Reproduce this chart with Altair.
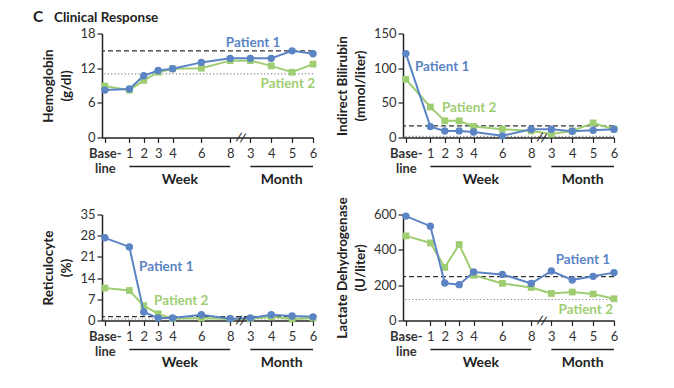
import altair as alt
import pandas as pd

BLUE = "#5b84c4"
GREEN = "#9fcd72"
INK = "#222222"
FONT = "Lato"

# x axis: time points (baseline, weeks 1-8, months 3-6) and their axis positions
TIME_LABELS = ["Base-line", "1", "2", "3", "4", "6", "8", "3", "4", "5", "6"]
X_POS = [0.0, 1.7, 2.7, 3.7, 4.7, 6.7, 8.7, 10.1, 11.55, 13.0, 14.45]
X_DOMAIN = [-0.2, 14.45]
BREAK_POS = 9.45

GROUP_LABELS = ["Week", "Month"]
GROUP_START = [1.7, 10.1]
GROUP_END = [8.7, 14.45]

# Hemoglobin (g/dl)
HB_P1 = [8.2, 8.4, 10.7, 11.6, 11.9, 13.0, 13.7, 13.7, 13.7, 15.0, 14.5]
HB_P2 = [8.9, 8.2, 9.9, 11.3, 11.9, 12.0, 13.3, 13.3, 12.4, 11.3, 12.7]
HB_REF = [15.0, 11.0]

# Indirect bilirubin (mmol/liter)
BIL_P1 = [121, 15.7, 9.5, 9.5, 8.0, 2.4, 12.0, 12.0, 9.0, 10.5, 12.0]
BIL_P2 = [84, 44, 24, 24, 16, 12, 9.5, 5.0, 9.5, 21, 12]
BIL_REF = [16.7, 1.5]

# Reticulocyte (%)
RET_P1 = [27.3, 24.3, 2.8, 0.8, 0.8, 1.9, 0.6, 0.8, 1.9, 1.5, 1.2]
RET_P2 = [10.7, 9.9, 4.9, 2.2, 0.6, 0.8, 0.5, 0.5, 1.2, 0.5, 0.8]
RET_REF = [1.3, 0.5]

# Lactate dehydrogenase (U/liter)
LDH_P1 = [591, 534, 212, 203, 275, 261, 210, 280, 229, 250, 271]
LDH_P2 = [479, 439, 301, 430, 256, 210, 187, 153, 161, 150, 123]
LDH_REF = [248, 119]

PATIENTS = ["Patient 1", "Patient 2"]


def label_expr():
    parts = []
    for lab, pos in zip(TIME_LABELS, X_POS):
        if lab == "Base-line":
            txt = "['Base-', 'line']"
        else:
            txt = "'" + lab + "'"
        parts.append(f"abs(datum.value - ({pos})) < 0.01 ? {txt}")
    return " : ".join(parts) + " : ''"


def panel(ytitle, p1, p2, ymax, yticks, refs, lab1, lab2, h, with_title=False):
    xs = alt.Scale(domain=X_DOMAIN, nice=False, zero=False)
    ys = alt.Scale(domain=[0, ymax], nice=False, zero=True)
    x_axis = alt.Axis(
        values=X_POS, labelExpr=label_expr(), title=None, grid=False,
        labelOverlap=False, labelFlush=False, labelBound=False,
        labelFontWeight={"condition": {"test": "datum.value < 0.5", "value": "bold"}, "value": "normal"},
        labelLineHeight=15, labelPadding=5, tickSize=5,
        labelFont=FONT, labelFontSize=13, labelColor="#333333",
    )
    y_axis = alt.Axis(
        values=yticks, title=ytitle, grid=False, tickSize=5, labelPadding=2,
        labelFont=FONT, labelFontSize=13, labelColor="#333333",
        titleFont=FONT, titleColor=INK,
        titleFontWeight="bold", titleFontSize=13.5, titlePadding=6, titleLineHeight=18,
        labelOverlap=False, labelFlush=False,
    )

    def X(f):
        return alt.X(f, type="quantitative", scale=xs, axis=x_axis)

    def Y(f):
        return alt.Y(f, type="quantitative", scale=ys, axis=y_axis)

    df = pd.DataFrame({"x": X_POS, "p1": p1, "p2": p2})
    base = alt.Chart(df)

    dash = alt.Chart(pd.DataFrame({"r": [refs[0]]})).mark_rule(
        color="#333333", strokeDash=[5, 3], strokeWidth=1.2
    ).encode(y=Y("r"))
    dot = alt.Chart(pd.DataFrame({"r": [refs[1]]})).mark_rule(
        color="#888888", strokeDash=[1.2, 2.2], strokeWidth=1.2
    ).encode(y=Y("r"))

    l2 = base.mark_line(color=GREEN, strokeWidth=2).encode(x=X("x"), y=Y("p2"))
    s2 = base.mark_square(color=GREEN, size=46, opacity=1).encode(x=X("x"), y=Y("p2"))
    l1 = base.mark_line(color=BLUE, strokeWidth=2).encode(x=X("x"), y=Y("p1"))
    s1 = base.mark_circle(color=BLUE, size=55, opacity=1).encode(x=X("x"), y=Y("p1"))

    labs = pd.DataFrame({
        "x": [lab1[0], lab2[0]], "y": [lab1[1], lab2[1]],
        "t": PATIENTS, "c": [BLUE, GREEN], "a": [lab1[2], lab2[2]],
    })
    texts = []
    for i in range(2):
        texts.append(alt.Chart(labs.iloc[[i]]).mark_text(
            align=labs["a"][i], baseline="middle", font=FONT, fontSize=13.5,
            fontWeight="bold", color=labs["c"][i],
        ).encode(x=X("x"), y=Y("y"), text="t:N"))

    brk = alt.Chart(pd.DataFrame({"x": [BREAK_POS], "y": [0], "t": ["//"]})).mark_text(
        font="DejaVu Sans", fontSize=12, color=INK, angle=15, baseline="middle", align="center"
    ).encode(x=X("x"), y=Y("y"), text="t:N")

    gdf = pd.DataFrame({"s": GROUP_START, "e": GROUP_END, "t": GROUP_LABELS})
    gdf["m"] = (gdf["s"] + gdf["e"]) / 2
    grules = alt.Chart(gdf).mark_rule(color=INK, strokeWidth=1.3).encode(
        x=X("s"), x2="e", y=alt.value(h + 29)
    )
    gtext = alt.Chart(gdf).mark_text(
        font=FONT, fontSize=14, fontWeight="bold", color=INK, baseline="middle"
    ).encode(x=X("m"), y=alt.value(h + 42), text="t:N")

    layers = [dash, dot, l2, s2, l1, s1] + texts + [brk, grules, gtext]
    if with_title:
        tdf = pd.DataFrame({"t": ["C"]})
        t1 = alt.Chart(tdf).mark_text(
            font=FONT, fontSize=15.5, fontWeight="bold", color=INK, align="left", baseline="alphabetic"
        ).encode(x=alt.value(-69), y=alt.value(-12), text="t:N")
        t2 = alt.Chart(pd.DataFrame({"t": ["Clinical Response"]})).mark_text(
            font=FONT, fontSize=13.5, fontWeight="bold", color=INK, align="left", baseline="alphabetic"
        ).encode(x=alt.value(-48), y=alt.value(-12), text="t:N")
        layers += [t1, t2]
    return alt.layer(*layers).properties(width=211, height=h)


A = panel(["Hemoglobin", "(g/dl)"], HB_P1, HB_P2, 18, [0, 6, 12, 18], HB_REF,
          (10.29, 16.4, "center"), (12.7, 9.2, "center"), 104, with_title=True)
B = panel(["Indirect Bilirubin", "(mmol/liter)"], BIL_P1, BIL_P2, 150, [0, 50, 100, 150], BIL_REF,
          (0.63, 102, "left"), (2.5, 43, "left"), 104)
C = panel(["Reticulocyte", "(%)"], RET_P1, RET_P2, 35, [0, 7, 14, 21, 28, 35], RET_REF,
          (2.37, 17.8, "left"), (3.41, 6.3, "left"), 106)
D = panel(["Lactate Dehydrogenase", "(U/liter)"], LDH_P1, LDH_P2, 600, [0, 200, 400, 600], LDH_REF,
          (10.4, 345, "left"), (10.6, 62, "left"), 106)

chart = alt.concat(A, B, C, D, columns=2, spacing={"row": 77, "column": 90}, bounds="flush").properties(
    padding={"left": 25, "top": 1.5, "right": 5, "bottom": 5},
    background="white",
).configure_view(stroke=None).configure_axis(
    domainColor=INK, domainWidth=1.5, tickColor=INK, tickWidth=1.2,
    labelColor="#333333", labelFont=FONT, labelFontSize=13, titleFont=FONT, titleColor=INK,
)

chart.save("out.html", embed_options={"renderer": "svg", "actions": False})
